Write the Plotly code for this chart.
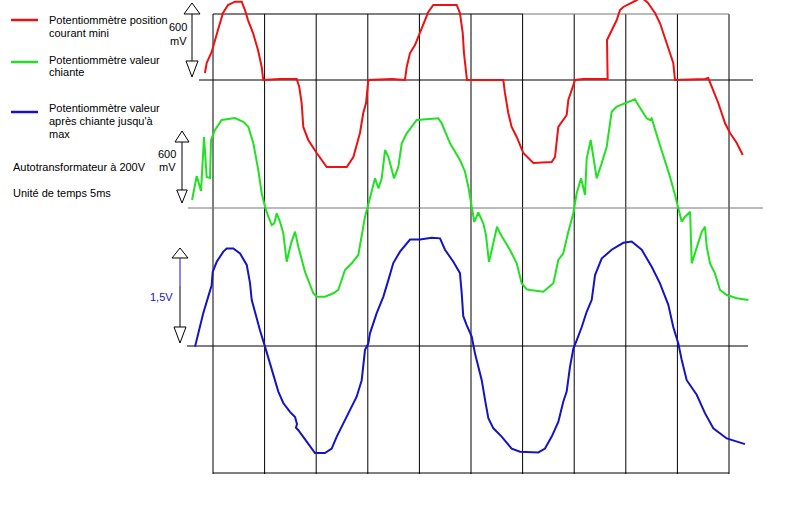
import plotly.graph_objects as go

# ---------------- data (time in ms, 5 ms per division) ----------------
red_t = [-0.78, -0.61, -0.13, 0.13, 0.48, 0.97, 1.45, 2.13, 2.78, 3.10, 3.39, 3.88, 4.36, 4.72, 4.87,
         6.49, 8.11, 8.36, 8.59, 8.75, 9.23, 10.05, 11.02, 12.96, 13.60, 14.24, 14.56, 14.83, 14.95, 15.05,
         17.32, 18.60, 18.77, 19.09, 19.57, 19.89, 20.38, 20.86, 21.35, 23.61, 23.93, 24.20, 24.32, 24.52, 24.61,
         28.13, 28.29, 28.61, 28.94, 29.43, 30.07, 31.04, 32.82, 33.14, 33.46, 34.27, 34.43, 34.76, 35.08,
         35.88, 38.24, 38.18, 38.63, 39.12, 39.44, 39.76, 41.06, 41.47, 42.15, 42.83, 43.31, 43.96, 44.60, 44.77,
         47.67, 47.99, 48.32, 48.96, 49.61, 50.10, 50.75, 51.33]
red_mv = [64, 155, 255, 345, 455, 609, 682, 712, 712, 636, 545, 427, 273, 118, 0,
          9, 9, -64, -209, -427, -545, -664, -791, -791, -700, -482, -300, -209, -118, 0,
          9, 0, 118, 245, 318, 391, 518, 618, 682, 682, 609, 427, 245, 64, 0,
          0, -118, -300, -427, -518, -664, -755, -745, -700, -427, -318, -182, -91, 0,
          9, 9, 364, 455, 545, 636, 664, 727, 755, 700, 609, 518, 336, 155, 0,
          9, 18, -64, -209, -391, -482, -573, -682]

green_t = [-2.03, -1.58, -1.16, -0.87, -0.61, -0.29, -0.19, 0.19, 0.84, 2.13, 2.94, 3.42, 3.91, 4.39, 4.72,
           5.04, 5.36, 5.69, 5.94, 6.17, 6.49, 6.81, 7.14, 7.56, 7.95, 8.27, 8.91, 9.72, 10.05, 10.85,
           11.66, 12.14, 12.79, 13.44, 14.08, 14.41, 14.73, 14.99, 15.38, 15.70, 16.02, 16.35, 16.67, 16.99,
           17.54, 17.96, 18.29, 18.77, 19.74, 21.83, 22.16, 22.97, 23.93, 24.42, 24.74, 24.97, 25.16, 25.32,
           25.71, 26.19, 26.45, 26.74, 27.01, 27.52, 27.81, 28.78, 29.43, 29.91, 30.40, 30.72, 32.01, 32.98,
           33.46, 33.94, 34.43, 34.92, 35.24, 35.66, 36.05, 36.21, 36.60, 36.85, 37.18, 37.66, 38.15, 38.47,
           38.63, 39.12, 39.92, 40.89, 41.21, 42.02, 42.34, 42.51, 43.15, 43.80, 44.28, 44.77, 45.09, 45.42,
           45.74, 46.23, 46.39, 46.71, 47.36, 47.67, 47.84, 48.16, 48.64, 49.13, 49.78, 50.75, 51.88]
green_mv = [73, 291, 155, 645, 282, 273, 618, 709, 800, 818, 784, 739, 588, 345, 134,
            12, -79, -155, -139, -48, -125, -230, -488, -321, -215, -352, -579, -775, -806, -806,
            -775, -745, -564, -503, -427, -230, -79, 12, 164, 270, 179, 270, 527, 466,
            270, 375, 588, 679, 800, 815, 770, 588, 436, 330, 194, 73, -18, -127,
            -41, -139, -245, -491, -382, -170, -230, -382, -503, -684, -739, -745, -761, -684,
            -473, -412, -215, -45, 134, 270, 118, 452, 618, 466, 270, 406, 557, 770,
            875, 921, 952, 988, 936, 815, 800, 815, 618, 436, 285, 118, -3, -125,
            -79, -34, -503, -412, -215, -170, -352, -503, -594, -745, -791, -821, -836]

blue_t = [-1.74, -1.42, -0.94, -0.46, -0.13, -0.03, 0.36, 1.00, 1.33, 1.97, 2.62, 3.27, 3.59, 3.75, 4.07,
          4.55, 5.04, 5.52, 6.01, 6.33, 6.81, 7.46, 7.95, 8.14, 8.04, 8.27, 9.08, 9.88, 10.85, 11.50,
          11.99, 12.63, 13.28, 13.92, 14.41, 14.56, 14.73, 15.05, 15.21, 15.86, 16.51, 16.99, 17.47, 18.12,
          19.09, 20.06, 21.19, 22.00, 22.48, 23.29, 23.93, 24.10, 24.25, 24.58, 25.07, 25.39, 26.04, 26.36,
          26.68, 27.17, 27.97, 28.94, 29.75, 31.52, 32.17, 32.82, 33.46, 33.94, 34.27, 34.59, 34.92, 35.24,
          35.73, 36.21, 36.70, 37.02, 37.66, 38.63, 39.76, 40.57, 41.54, 42.51, 43.31, 44.12, 44.60, 45.09,
          45.42, 45.90, 46.87, 47.67, 48.48, 49.78, 51.55]
blue_v = [-0.01, 0.20, 0.52, 0.78, 0.96, 1.17, 1.33, 1.49, 1.54, 1.54, 1.46, 1.28, 0.99, 0.73, 0.52,
          0.25, -0.01, -0.27, -0.51, -0.72, -0.90, -1.04, -1.12, -1.23, -1.29, -1.33, -1.51, -1.69, -1.69, -1.62,
          -1.43, -1.22, -1.01, -0.80, -0.54, -0.33, -0.06, 0.04, 0.20, 0.52, 0.78, 1.04, 1.31, 1.49,
          1.68, 1.68, 1.71, 1.70, 1.52, 1.33, 1.15, 0.83, 0.47, 0.33, 0.15, -0.12, -0.54, -0.85,
          -1.14, -1.30, -1.43, -1.62, -1.67, -1.68, -1.62, -1.43, -1.20, -0.88, -0.72, -0.33, -0.04, 0.09,
          0.30, 0.54, 0.73, 1.12, 1.38, 1.52, 1.63, 1.65, 1.52, 1.25, 0.99, 0.65, 0.30, 0.04,
          -0.22, -0.54, -0.77, -1.06, -1.30, -1.46, -1.55]

legend_texts = [
    ["Potentiommètre position", "courant mini"],
    ["Potentiommètre valeur", "chiante"],
    ["Potentiommètre valeur", "après chiante jusqu'à", "max"],
]
notes = ["Autotransformateur à 200V", "Unité de temps 5ms"]
div_count = 10          # time divisions of 5 ms
time_div_ms = 5

# ---------------- layout helpers (screen geometry) ----------------
W, H = 800, 515
X0_PX, DIV_PX = 213, 51.6
MV_PX = 66 / 600        # px per mV
V_PX = 95 / 1.5         # px per V
RED_BASE, GREEN_BASE, BLUE_BASE = 80, 208, 346

RED = "#ee1111"
GREEN = "#22e022"
BLUE = "#1414c4"
FONT = "Liberation Sans, Arial, sans-serif"

def px(x):
    return x / W

def py(y):
    return 1 - y / H

x_min = -X0_PX / DIV_PX * time_div_ms
x_max = (W - X0_PX) / DIV_PX * time_div_ms

fig = go.Figure()
fig.add_trace(go.Scatter(x=red_t, y=[-RED_BASE + v * MV_PX for v in red_mv], mode="lines",
                         line=dict(color=RED, width=2), hoverinfo="skip"))
fig.add_trace(go.Scatter(x=green_t, y=[-GREEN_BASE + v * MV_PX for v in green_mv], mode="lines",
                         line=dict(color=GREEN, width=2), hoverinfo="skip"))
fig.add_trace(go.Scatter(x=blue_t, y=[-BLUE_BASE + v * V_PX for v in blue_v], mode="lines",
                         line=dict(color=BLUE, width=2), hoverinfo="skip"))

shapes = []
# vertical division lines
for k in range(div_count + 1):
    shapes.append(dict(type="line", xref="x", yref="paper", x0=k * time_div_ms, x1=k * time_div_ms,
                       y0=py(14), y1=py(474), line=dict(color="black", width=1), layer="below"))

def hline(x0, x1, y, color="black"):
    shapes.append(dict(type="line", xref="paper", yref="paper", x0=px(x0), x1=px(x1), y0=py(y), y1=py(y),
                       line=dict(color=color, width=1), layer="below"))

hline(213, 523, 14)
hline(523, 729, 14, "#777777")
hline(199, 753, RED_BASE)
hline(188, 763, GREEN_BASE, "#777777")
hline(187, 748, BLUE_BASE)
hline(213, 729, 473)

def path_shape(pts, color="black", closed=True):
    d = "M " + " L ".join(f"{px(a):.5f},{py(b):.5f}" for a, b in pts)
    if closed:
        d += " Z"
    shapes.append(dict(type="path", xref="paper", yref="paper", path=d,
                       line=dict(color=color, width=1), fillcolor="white" if closed else None))

def arrow(xc, top, base_top, line_end, tri_top, apex_bot, half, blue_until=None):
    # top open triangle
    path_shape([(xc, top), (xc - half, base_top), (xc + half, base_top)])
    if blue_until is not None:
        path_shape([(xc, base_top), (xc, blue_until)], BLUE, closed=False)
        path_shape([(xc, blue_until), (xc, line_end)], "black", closed=False)
    else:
        path_shape([(xc, base_top), (xc, line_end)], "black", closed=False)
    # bottom open triangle (pointing down)
    path_shape([(xc - half * 0.75, tri_top), (xc + half * 0.75, tri_top), (xc, apex_bot)])

arrow(192, 3, 14, 61, 61, 77, 8)
arrow(182, 131, 142, 190, 190, 203, 7)
arrow(180, 248, 258, 327, 327, 343, 8, blue_until=286)

annotations = []

def text(x, y, s, color="black", anchor="left", size=11):
    annotations.append(dict(xref="paper", yref="paper", x=px(x), y=py(y), text=s, showarrow=False,
                            xanchor=anchor, yanchor="middle", font=dict(family=FONT, size=size, color=color)))

text(178, 27, "600", anchor="center")
text(178, 41, "mV", anchor="center")
text(167, 154, "600", anchor="center")
text(167, 167, "mV", anchor="center")
text(161, 297, "1,5V", color=BLUE, anchor="center")

# legend
leg_colors = [RED, GREEN, BLUE]
leg_line_y = [20, 62, 112]
leg_text_y = [[20, 33], [60, 72], [108, 121, 134]]
for c, ly, lines, tys in zip(leg_colors, leg_line_y, legend_texts, leg_text_y):
    path_shape([(11, ly), (38, ly)], c, closed=False)
    shapes[-1]["line"]["width"] = 2.5
    for s, ty in zip(lines, tys):
        text(47, ty, s)
text(11, 167, notes[0])
text(11, 193, notes[1])

fig.update_layout(
    width=W, height=H, margin=dict(l=0, r=0, t=0, b=0),
    paper_bgcolor="white", plot_bgcolor="white", showlegend=False,
    xaxis=dict(range=[x_min, x_max], visible=False, fixedrange=True),
    yaxis=dict(range=[-H, 0], visible=False, fixedrange=True),
    shapes=shapes, annotations=annotations,
)

fig.write_html("out.html", config=dict(displayModeBar=False),
               post_script="document.body.style.margin='0';document.body.style.overflow='hidden';")
